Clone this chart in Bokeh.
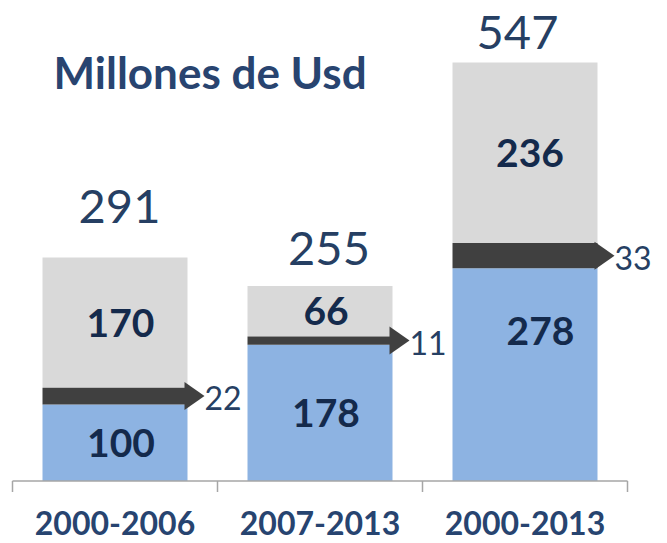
from bokeh.plotting import figure
from bokeh.models import Range1d
from bokeh.embed import file_html
from bokeh.resources import INLINE
from bokeh.core.properties import value

# ---------------- data ----------------
categories = ["2000-2006", "2007-2013", "2000-2013"]
base_values = [100, 178, 278]     # blue segment
arrow_values = [22, 11, 33]       # dark segment (arrow)
top_values = [170, 66, 236]       # grey segment
totals = [291, 255, 547]
title_text = "Millones de Usd"

# ---------------- styles ----------------
BLUE = "#8DB3E2"
GREY = "#D9D9D9"
DARK = "#404040"
TOTAL_COLOR = "#263F63"
INNER_COLOR = "#142A4C"
CAT_COLOR = "#274470"
TITLE_COLOR = "#284470"
AXIS_COLOR = "#A6A6A6"
FONT = "Lato"

W, H = 667, 543
PX_PER_CAT = 205.0
PX_PER_UNIT = 0.765
LEFT_PX = 12.0       # px from figure left to the first category boundary
BASE_PX = 480.5      # px from figure top to y = 0

x_start = -0.5 - LEFT_PX / PX_PER_CAT
x_end = x_start + W / PX_PER_CAT
y_end = BASE_PX / PX_PER_UNIT
y_start = y_end - H / PX_PER_UNIT

def px_x(px):
    return px / PX_PER_CAT

def px_y(px):
    return px / PX_PER_UNIT

p = figure(width=W, height=H,
           x_range=Range1d(x_start, x_end), y_range=Range1d(y_start, y_end),
           output_backend="svg", toolbar_location=None,
           x_axis_type=None, y_axis_type=None,
           min_border=0, outline_line_color=None,
           background_fill_color="white", border_fill_color="white")
p.grid.visible = False

xs = list(range(len(categories)))
bar_w = px_x(145)

dark_bottom = base_values
dark_top = [b + a for b, a in zip(base_values, arrow_values)]
grey_top = [d + t for d, t in zip(dark_top, top_values)]

p.vbar(x=xs, bottom=0, top=base_values, width=bar_w, fill_color=BLUE, line_color=None)
p.vbar(x=xs, bottom=dark_top, top=grey_top, width=bar_w, fill_color=GREY, line_color=None)
p.vbar(x=xs, bottom=dark_bottom, top=dark_top, width=bar_w, fill_color=DARK, line_color=None)

# arrow heads
head_len = px_x(20)
head_half = px_y(14)
hx, hy, lab_x, lab_y = [], [], [], []
for i in xs:
    right = i + bar_w / 2 - px_x(3)
    tip = right + head_len
    yc = (dark_bottom[i] + dark_top[i]) / 2
    hx.append([right, tip, right])
    hy.append([yc + head_half, yc, yc - head_half])
    lab_x.append(tip + px_x(0))
    lab_y.append(yc - px_y(2))
p.patches(xs=hx, ys=hy, fill_color=DARK, line_color=None)
p.text(x=lab_x, y=lab_y, text=[str(v) for v in arrow_values],
       text_font=value(FONT), text_font_size="32px", text_color=TOTAL_COLOR,
       text_align="left", text_baseline="middle")

# axis line and ticks
p.segment(x0=[-0.5], y0=[0], x1=[len(categories) - 0.5], y1=[0],
          line_color=AXIS_COLOR, line_width=1.5)
tick_x = [i - 0.5 for i in range(len(categories) + 1)]
p.segment(x0=tick_x, y0=[0] * len(tick_x), x1=tick_x, y1=[-px_y(11)] * len(tick_x),
          line_color=AXIS_COLOR, line_width=1.5)

# category labels
p.text(x=xs, y=[-px_y(42)] * len(xs), text=categories,
       text_font=value(FONT), text_font_style="bold", text_font_size="32px",
       text_color=CAT_COLOR, text_align="center", text_baseline="middle")

# totals
total_dx_px = [4.5, 9, -7.5]
total_gap_px = [51.6, 37, 30]
p.text(x=[i + px_x(total_dx_px[i]) for i in xs],
       y=[grey_top[i] + px_y(total_gap_px[i]) for i in xs],
       text=[str(t) for t in totals],
       text_font=value(FONT), text_font_size="47px", text_color=TOTAL_COLOR,
       text_align="center", text_baseline="middle")

# inner labels
base_dx_px = [6, 6, 15.5]
base_dy_px = [0, 0, 44]
p.text(x=[i + px_x(base_dx_px[i]) for i in xs],
       y=[base_values[i] / 2 + px_y(base_dy_px[i]) for i in xs],
       text=[str(v) for v in base_values],
       text_font=value(FONT), text_font_style="bold", text_font_size="39px",
       text_color=INNER_COLOR, text_align="center", text_baseline="middle")

top_dx_px = [5.5, 6, 5]
p.text(x=[i + px_x(top_dx_px[i]) for i in xs],
       y=[(dark_top[i] + grey_top[i]) / 2 for i in xs],
       text=[str(v) for v in top_values],
       text_font=value(FONT), text_font_style="bold", text_font_size="39px",
       text_color=INNER_COLOR, text_align="center", text_baseline="middle")

# title
p.text(x=[x_start + px_x(53)], y=[y_end - px_y(71)], text=[title_text],
       text_font=value(FONT), text_font_style="bold", text_font_size="44px",
       text_color=TITLE_COLOR, text_align="left", text_baseline="middle")

open("out.html", "w").write(file_html(p, INLINE))
